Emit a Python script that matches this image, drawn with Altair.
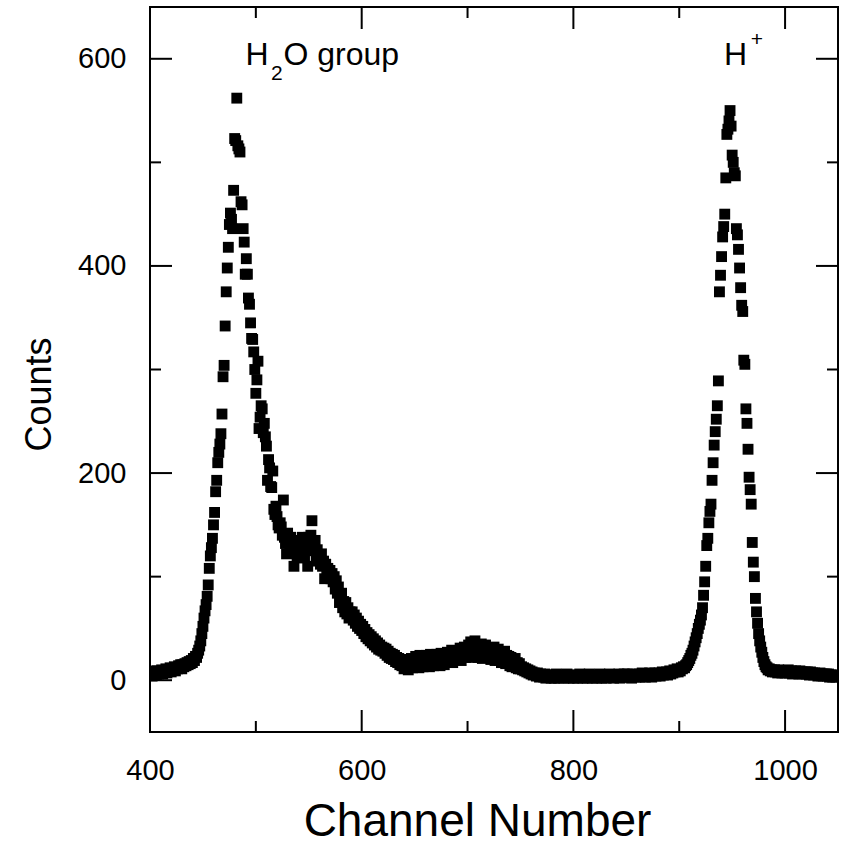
import altair as alt
import pandas as pd

# ---- data: counts per channel (400 .. 1050) ----
counts_400 = [
    5, 8, 4, 9, 6, 7, 5, 9, 6, 8,
    7, 10, 6, 9, 8, 11, 7, 10, 9, 12,
    8, 11, 10, 13, 9, 12, 11, 14, 12, 15,
    11, 15, 13, 16, 14, 17, 15, 18, 16, 19,
    17, 21, 19, 23, 22, 26, 29, 33, 38, 45,
    52, 60, 67, 73, 81, 92, 108, 120, 128, 137,
    150, 162, 182, 193, 210, 220, 228, 238, 257, 293,
    304, 342, 375, 398, 418, 440, 451, 445, 436, 473,
    523, 521, 562, 516, 513, 510, 462, 459, 436, 423,
    392, 407, 392, 369, 363, 345, 330, 329, 317, 300,
]
counts_500 = [
    277, 290, 308, 243, 254, 265, 262, 239, 248, 235,
    226, 193, 213, 205, 187, 186, 202, 165, 160, 168,
    158, 150, 147, 152, 148, 140, 174, 138, 132, 122,
    142, 135, 128, 138, 125, 130, 110, 128, 135, 120,
    128, 118, 132, 125, 138, 130, 120, 135, 128, 110,
    138, 132, 140, 154, 130, 125, 135, 118, 126, 115,
    120, 112, 122, 110, 115, 98, 112, 105, 108, 100,
    106, 98, 103, 95, 100, 88, 96, 84, 90, 75,
    80, 84, 70, 76, 66, 75, 64, 70, 60, 66,
    62, 66, 58, 63, 55, 60, 52, 57, 50, 54,
]
counts_600 = [
    48, 52, 45, 49, 42, 46, 40, 44, 38, 42,
    36, 40, 34, 38, 32, 36, 30, 34, 29, 32,
    28, 31, 26, 30, 24, 28, 22, 26, 21, 25,
    20, 24, 18, 22, 17, 21, 15, 20, 14, 19,
    11, 19, 13, 18, 10, 20, 14, 21, 12, 19,
    14, 23, 17, 21, 12, 24, 16, 22, 13, 20,
    15, 24, 18, 22, 13, 25, 17, 23, 14, 21,
    16, 25, 19, 23, 14, 26, 18, 24, 15, 22,
    18, 27, 20, 26, 23, 29, 17, 25, 22, 28,
    20, 28, 24, 31, 19, 27, 25, 32, 22, 29,
]
counts_700 = [
    24, 34, 27, 37, 22, 33, 28, 38, 25, 32,
    22, 33, 26, 35, 21, 30, 27, 34, 23, 29,
    24, 31, 20, 29, 23, 32, 19, 27, 22, 30,
    19, 27, 17, 25, 21, 28, 16, 24, 18, 23,
    14, 22, 13, 20, 15, 21, 12, 17, 11, 16,
    11, 13, 10, 12, 9, 11, 8, 10, 7, 9,
    6, 8, 5, 7, 6, 4, 7, 5, 3, 6,
    4, 5, 3, 6, 2, 5, 4, 3, 5, 2,
    3, 5, 2, 4, 6, 3, 2, 5, 4, 3,
    5, 2, 4, 3, 6, 4, 2, 5, 3, 4,
]
counts_800 = [
    2, 4, 5, 3, 2, 4, 6, 3, 5, 2,
    4, 3, 5, 2, 4, 6, 3, 4, 2, 5,
    3, 5, 2, 4, 3, 6, 4, 2, 5, 3,
    4, 2, 5, 3, 6, 4, 3, 5, 2, 4,
    5, 3, 4, 6, 2, 5, 3, 4, 6, 3,
    4, 6, 3, 5, 4, 2, 6, 4, 5, 3,
    5, 4, 6, 3, 5, 7, 4, 6, 3, 5,
    6, 4, 7, 5, 3, 6, 5, 7, 4, 6,
    5, 7, 4, 6, 8, 5, 7, 6, 8, 5,
    7, 9, 6, 8, 7, 10, 8, 9, 11, 8,
]
counts_900 = [
    10, 9, 12, 11, 13, 12, 14, 15, 17, 19,
    21, 24, 26, 29, 33, 37, 41, 45, 50, 54,
    58, 63, 70, 82, 95, 110, 130, 137, 152, 163,
    170, 193, 210, 227, 240, 252, 265, 289, 375, 391,
    409, 428, 438, 450, 485, 527, 532, 540, 550, 535,
    507, 500, 490, 487, 436, 430, 416, 398, 379, 362,
    356, 309, 305, 262, 248, 223, 196, 184, 170, 133,
    114, 100, 79, 66, 55, 45, 38, 32, 27, 22,
    18, 15, 13, 12, 10, 11, 9, 10, 8, 9,
    10, 8, 9, 7, 10, 8, 9, 7, 8, 9,
]
counts_1000 = [
    7, 9, 8, 10, 7, 8, 9, 6, 8, 7,
    9, 7, 8, 6, 9, 7, 8, 6, 7, 8,
    6, 8, 7, 5, 8, 6, 7, 5, 7, 6,
    6, 4, 6, 7, 5, 6, 4, 6, 5, 6,
    4, 6, 3, 5, 4, 3, 5, 4, 3, 5, 4,
]

first_channel = 400
counts = counts_400 + counts_500 + counts_600 + counts_700 + counts_800 + counts_900 + counts_1000
channels = list(range(first_channel, first_channel + len(counts)))

# axis ticks / labels
x_major = [400, 600, 800, 1000]
x_minor = [500, 700, 900]
y_major = [0, 200, 400, 600]
y_minor = [100, 300, 500]

# peak annotations (data coordinates)
ann_text = ["H", "O group", "H"]
ann_channel = [490.2, 526.1, 942.3]
ann_counts = [594, 594, 594]
small_text = ["2", "+"]
small_channel = [514.3, 967.5]
small_counts = [579.5, 612]

FONT = "Liberation Sans"
W, H = 688, 725

df = pd.DataFrame({"channel": channels, "counts": counts})
x_scale = alt.Scale(domain=[400, 1050], nice=False, zero=False)
y_scale = alt.Scale(domain=[-50, 650], nice=False, zero=False)

x_axis = alt.Axis(
    values=x_major, format="d", ticks=False, tickSize=0, domain=False, grid=False,
    labelFont=FONT, labelFontSize=29, labelColor="black", labelPadding=24,
    labelFlush=False, labelOverlap=False,
    title="Channel Number", titleFont=FONT, titleFontSize=46, titleFontWeight="normal",
    titleColor="black", titleX=327, titleY=103, titleBaseline="alphabetic", titleAlign="center")
y_axis = alt.Axis(
    values=y_major, format="d", ticks=False, tickSize=0, domain=False, grid=False,
    labelFont=FONT, labelFontSize=29, labelColor="black", labelPadding=24,
    labelOverlap=False,
    title="Counts", titleFont=FONT, titleFontSize=36, titleFontWeight="normal",
    titleColor="black", titleX=-100, titleY=387, titleAngle=270,
    titleBaseline="alphabetic", titleAlign="center")

X = alt.X("channel:Q", scale=x_scale, axis=x_axis, title="Channel Number")
Y = alt.Y("counts:Q", scale=y_scale, axis=y_axis, title="Counts")

points = alt.Chart(df).mark_square(size=118, color="black", opacity=1, clip=True).encode(x=X, y=Y)

def xticks(vals, y0, y1):
    d = pd.DataFrame({"channel": vals})
    return alt.Chart(d).mark_rule(color="black", strokeWidth=2).encode(
        x=X, y=alt.value(y0), y2=alt.value(y1))

def yticks(vals, x0, x1):
    d = pd.DataFrame({"counts": vals})
    return alt.Chart(d).mark_rule(color="black", strokeWidth=2).encode(
        y=Y, x=alt.value(x0), x2=alt.value(x1))

ticks = [
    xticks(x_major, H, H - 22), xticks(x_minor, H, H - 11),
    xticks(x_major, 0, 22), xticks(x_minor, 0, 11),
    yticks(y_major, 0, 22), yticks(y_minor, 0, 11),
    yticks(y_major, W, W - 22), yticks(y_minor, W, W - 11),
]

ann_df = pd.DataFrame({"channel": ann_channel, "counts": ann_counts, "t": ann_text})
ann = alt.Chart(ann_df).mark_text(font=FONT, fontSize=32, color="black", align="left",
                                  baseline="alphabetic").encode(x=X, y=Y, text="t:N")

small_df = pd.DataFrame({"channel": small_channel, "counts": small_counts, "t": small_text})
small = alt.Chart(small_df).mark_text(font=FONT, fontSize=21, color="black", align="left",
                                      baseline="alphabetic").encode(x=X, y=Y, text="t:N")

chart = alt.layer(points, *ticks, ann, small).properties(
    width=W, height=H,
    autosize=alt.AutoSizeParams(type="none"),
    padding={"left": 150, "top": 7, "right": 8, "bottom": 113},
    background="white",
).configure_view(stroke="black", strokeWidth=2)

chart.save("out.html", embed_options={"renderer": "svg", "actions": False})
